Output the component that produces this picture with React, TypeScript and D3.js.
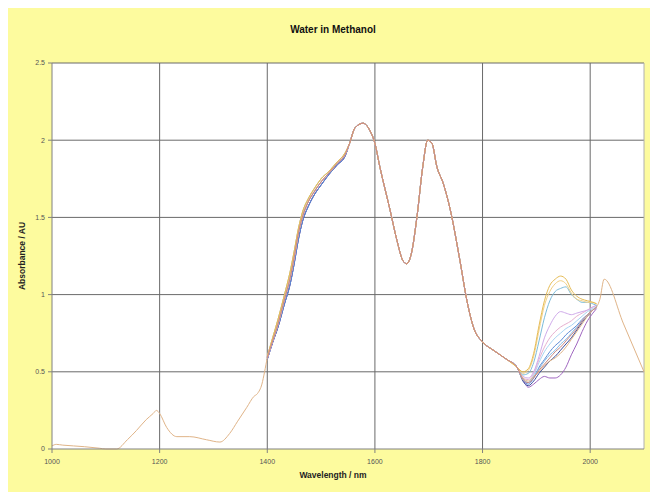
import React, { useEffect } from "react";
import * as d3 from "d3";

// ---------- data ----------
const xTicks = [1000, 1200, 1400, 1600, 1800, 2000];
const yTicks = [0, 0.5, 1, 1.5, 2, 2.5];
const yTickLabels = ["0", "0.5", "1", "1.5", "2", "2.5"];

// shared low-wavelength part (single visible trace)
const prefixNm = [1000, 1008, 1020, 1040, 1060, 1088, 1100, 1120, 1140, 1157, 1175, 1188, 1194, 1200, 1213, 1232, 1256, 1287, 1312, 1330, 1345, 1362, 1375, 1382, 1390, 1395];
const prefixAbs = [0.02, 0.03, 0.025, 0.02, 0.015, 0.005, 0.0, 0.0, 0.06, 0.12, 0.19, 0.23, 0.25, 0.23, 0.14, 0.08, 0.08, 0.06, 0.045, 0.1, 0.18, 0.27, 0.34, 0.36, 0.42, 0.5];

// rising flank, three slightly different variants
const riseNm = [1400, 1410, 1420, 1432, 1442, 1450, 1458, 1466, 1476, 1488, 1500, 1515, 1530, 1545];
const riseEarly = [0.6, 0.72, 0.84, 1.0, 1.14, 1.28, 1.43, 1.54, 1.62, 1.69, 1.75, 1.8, 1.86, 1.92];
const riseMid = [0.59, 0.7, 0.81, 0.97, 1.1, 1.24, 1.4, 1.51, 1.6, 1.67, 1.73, 1.79, 1.85, 1.91];
const riseLate = [0.58, 0.69, 0.79, 0.94, 1.06, 1.2, 1.36, 1.48, 1.57, 1.65, 1.71, 1.78, 1.84, 1.9];

// shared central part
const middleNm = [1553, 1563, 1578, 1591, 1600, 1609, 1628, 1641, 1652, 1659, 1668, 1678, 1689, 1698, 1706, 1715, 1727, 1740, 1758, 1771, 1783, 1801, 1820, 1845, 1864];
const middleAbs = [1.98, 2.08, 2.11, 2.06, 1.98, 1.83, 1.55, 1.35, 1.22, 1.2, 1.27, 1.5, 1.83, 2.0, 1.98, 1.83, 1.72, 1.55, 1.22, 0.96, 0.79, 0.69, 0.64, 0.58, 0.53];

// divergent region
const tailNm = [1875, 1885, 1895, 1905, 1915, 1925, 1935, 1945, 1955, 1965, 1975, 1985, 1995, 2005, 2012];
const tailGold = [0.5, 0.52, 0.62, 0.8, 0.96, 1.06, 1.1, 1.12, 1.1, 1.03, 0.99, 0.97, 0.96, 0.95, 0.94];
const tailOrange = [0.49, 0.51, 0.6, 0.77, 0.93, 1.02, 1.07, 1.09, 1.07, 1.01, 0.97, 0.96, 0.95, 0.95, 0.94];
const tailTeal = [0.48, 0.49, 0.56, 0.7, 0.85, 0.96, 1.02, 1.04, 1.05, 1.0, 0.97, 0.95, 0.95, 0.94, 0.93];
const tailViolet = [0.47, 0.46, 0.5, 0.6, 0.72, 0.8, 0.86, 0.89, 0.88, 0.87, 0.88, 0.89, 0.9, 0.92, 0.93];
const tailPink = [0.46, 0.45, 0.49, 0.58, 0.66, 0.72, 0.76, 0.79, 0.81, 0.83, 0.86, 0.88, 0.9, 0.92, 0.93];
const tailLightBlue = [0.45, 0.43, 0.48, 0.56, 0.63, 0.68, 0.72, 0.75, 0.78, 0.8, 0.83, 0.86, 0.89, 0.91, 0.92];
const tailBlue = [0.45, 0.42, 0.46, 0.53, 0.58, 0.63, 0.67, 0.7, 0.74, 0.77, 0.8, 0.84, 0.87, 0.9, 0.92];
const tailSky = [0.45, 0.43, 0.47, 0.52, 0.57, 0.61, 0.64, 0.68, 0.71, 0.75, 0.79, 0.83, 0.87, 0.9, 0.92];
const tailDarkBlue = [0.44, 0.41, 0.44, 0.49, 0.53, 0.57, 0.6, 0.64, 0.68, 0.72, 0.77, 0.82, 0.86, 0.9, 0.92];
const tailTan = [0.46, 0.44, 0.47, 0.5, 0.54, 0.57, 0.59, 0.62, 0.66, 0.71, 0.76, 0.81, 0.86, 0.9, 0.92];
const tailPurple = [0.45, 0.4, 0.42, 0.45, 0.47, 0.46, 0.46, 0.48, 0.53, 0.61, 0.68, 0.76, 0.83, 0.88, 0.91];
const tailRed = [0.45, 0.43, 0.46, 0.51, 0.55, 0.59, 0.63, 0.66, 0.7, 0.74, 0.78, 0.83, 0.87, 0.9, 0.92];

// shared high-wavelength part
const suffixNm = [2018, 2026, 2062, 2100];
const suffixAbs = [0.97, 1.1, 0.81, 0.5];

type Rise = "early" | "mid" | "late";
const seriesNames = ["purple", "darkblue", "blue", "sky", "lightblue", "pink", "violet", "teal", "orange", "gold", "tan", "red"];
const seriesColors = ["#a066c0", "#3a4c9c", "#5f8cd6", "#86bbe6", "#a8d4f2", "#e6b0d0", "#cfaaea", "#7cbcda", "#f2d084", "#e6bc56", "#e0b488", "#cc8882"];
const seriesRise: Rise[] = ["late", "late", "late", "mid", "mid", "mid", "mid", "early", "early", "early", "mid", "mid"];
const seriesTails = [tailPurple, tailDarkBlue, tailBlue, tailSky, tailLightBlue, tailPink, tailViolet, tailTeal, tailOrange, tailGold, tailTan, tailRed];
const seriesHasEnds = [false, false, false, false, false, false, false, false, false, false, true, false];

// ---------- layout ----------
const W = 650;
const H = 492;
const plot = { left: 52, right: 644, top: 63, bottom: 449 };

export default function App() {
  useEffect(() => {
    document.body.style.margin = "0";
    document.body.style.overflow = "hidden";
  }, []);

  const x = d3.scaleLinear().domain([1000, 2100]).range([plot.left, plot.right]);
  const y = d3.scaleLinear().domain([0, 2.5]).range([plot.bottom, plot.top]);
  const line = d3
    .line<[number, number]>()
    .x((d) => x(d[0]))
    .y((d) => y(d[1]))
    .curve(d3.curveMonotoneX);

  const riseMap: Record<Rise, number[]> = { early: riseEarly, mid: riseMid, late: riseLate };
  const zip = (a: number[], b: number[]) => a.map((v, i) => [v, b[i]] as [number, number]);

  const series = seriesNames.map((name, i) => {
    let pts: [number, number][] = [];
    if (seriesHasEnds[i]) pts = pts.concat(zip(prefixNm, prefixAbs));
    pts = pts.concat(zip(riseNm, riseMap[seriesRise[i]]));
    pts = pts.concat(zip(middleNm, middleAbs));
    pts = pts.concat(zip(tailNm, seriesTails[i]));
    if (seriesHasEnds[i]) pts = pts.concat(zip(suffixNm, suffixAbs));
    return { name, color: seriesColors[i], pts };
  });

  const font = "Liberation Sans, Arial, sans-serif";

  return (
    <svg width={W} height={H} style={{ display: "block" }}>
      <rect x={0} y={0} width={W} height={H} fill="#ffffff" />
      <rect x={8} y={8} width={W - 8} height={H - 8} fill="#fdfb9e" />
      <rect x={plot.left} y={plot.top} width={plot.right - plot.left} height={plot.bottom - plot.top} fill="#ffffff" />

      {/* grid */}
      {yTicks.slice(1).map((t) => (
        <line key={"gy" + t} x1={plot.left} x2={plot.right} y1={y(t)} y2={y(t)} stroke="#6a6a6a" strokeWidth={1} />
      ))}
      {xTicks.slice(1).map((t) => (
        <line key={"gx" + t} x1={x(t)} x2={x(t)} y1={plot.top} y2={plot.bottom} stroke="#6a6a6a" strokeWidth={1} />
      ))}
      <line x1={plot.right} x2={plot.right} y1={plot.top} y2={plot.bottom} stroke="#b0b0b0" strokeWidth={1} />

      {/* series */}
      {series.map((s) => (
        <path key={s.name} d={line(s.pts) || ""} fill="none" stroke={s.color} strokeWidth={1} strokeLinejoin="round" />
      ))}

      {/* axes */}
      <line x1={plot.left} x2={plot.left} y1={plot.top} y2={plot.bottom} stroke="#808080" strokeWidth={1} />
      <line x1={plot.left} x2={plot.right} y1={plot.bottom} y2={plot.bottom} stroke="#808080" strokeWidth={1} />
      {yTicks.map((t, i) => (
        <g key={"ty" + t}>
          <line x1={plot.left - 4} x2={plot.left} y1={y(t)} y2={y(t)} stroke="#808080" />
          <text x={plot.left - 7} y={y(t)} dy="0.35em" textAnchor="end" fontFamily={font} fontSize={7} fill="#555">
            {yTickLabels[i]}
          </text>
        </g>
      ))}
      {xTicks.map((t) => (
        <g key={"tx" + t}>
          <line x1={x(t)} x2={x(t)} y1={plot.bottom} y2={plot.bottom + 4} stroke="#808080" />
          <text x={x(t)} y={plot.bottom + 15} textAnchor="middle" fontFamily={font} fontSize={7} fill="#555">
            {t}
          </text>
        </g>
      ))}

      {/* titles */}
      <text x={333} y={33} textAnchor="middle" fontFamily={font} fontSize={10} fontWeight="bold" fill="#111">
        Water in Methanol
      </text>
      <text x={333} y={478} textAnchor="middle" fontFamily={font} fontSize={8.5} fontWeight="bold" fill="#222">
        Wavelength / nm
      </text>
      <text
        transform={`translate(25,${(plot.top + plot.bottom) / 2}) rotate(-90)`}
        textAnchor="middle"
        fontFamily={font}
        fontSize={8.5}
        fontWeight="bold"
        fill="#222"
      >
        Absorbance / AU
      </text>
    </svg>
  );
}
